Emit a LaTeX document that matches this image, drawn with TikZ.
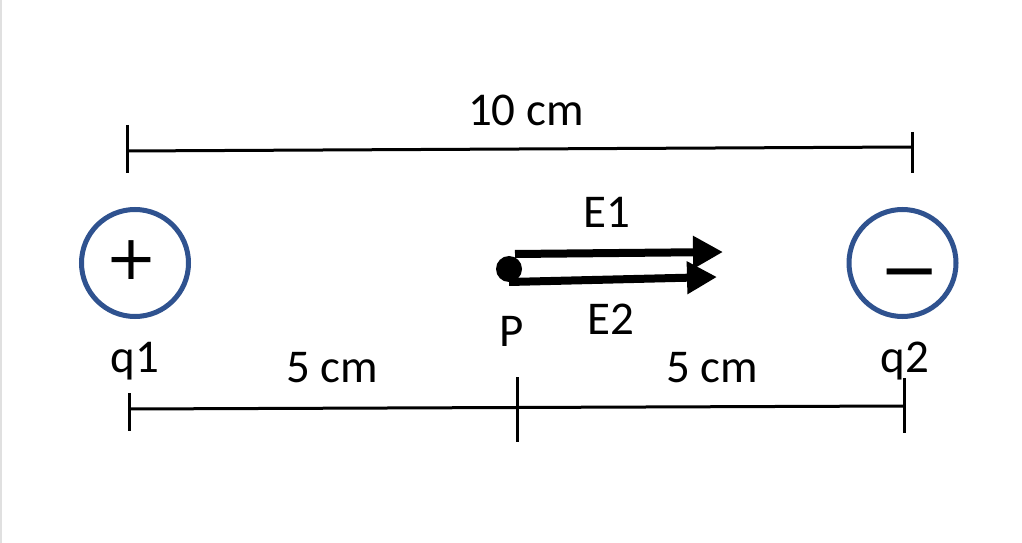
\documentclass[tikz,border=0pt]{standalone}
\usepackage{fontspec}
\setmainfont{Carlito}
\newfontfamily\symfont{DejaVu Sans}
\usetikzlibrary{arrows.meta}
\definecolor{chargeblue}{HTML}{2F528F}
\begin{document}
\begin{tikzpicture}[x=1bp,y=-1bp,
  lbl/.style={inner sep=0pt,anchor=base,font=\fontsize{47bp}{54bp}\selectfont},
  dimline/.style={line width=3bp,black},
  charge/.style={circle,draw=chargeblue,line width=5bp,minimum size=107bp,inner sep=0pt},
  sign/.style={inner sep=0pt,font=\symfont\fontsize{62bp}{70bp}\selectfont},
  field/.style={line width=8bp,-{Triangle[length=30bp,width=31bp]}}]
\useasboundingbox (0,0) rectangle (1022,543);
\fill[white] (0,0) rectangle (1022,543);
\draw[black!12,line width=2bp] (1,0) -- (1,543);
% charges
\node[charge] (c1) at (135,263) {};
\node[charge] (c2) at (902.5,263) {};
\node[sign] (plus) at (131.5,260) {+};
\node[sign,font=\symfont\fontsize{72bp}{80bp}\selectfont] (minus) at (909.5,282) {−};
\node[lbl] (q1) at (135,373) {q1};
\node[lbl] (q2) at (905,373) {q2};
% top dimension
\coordinate (tl) at (127,151);
\coordinate (tr) at (912,147);
\coordinate (tla) at (127,125);
\coordinate (tlb) at (127,173);
\coordinate (tra) at (912,132);
\coordinate (trb) at (912,173);
\draw[dimline] (tl) -- (tr);
\draw[dimline] (tla) -- (tlb);
\draw[dimline] (tra) -- (trb);
\node[lbl] (d10) at (526,126) {10 cm};
% bottom dimension
\coordinate (bl) at (129,409);
\coordinate (br) at (904,406);
\coordinate (bla) at (129,393);
\coordinate (blb) at (129,431);
\coordinate (bma) at (517,377);
\coordinate (bmb) at (517,442);
\coordinate (bra) at (904,378);
\coordinate (brb) at (904,433);
\draw[dimline] (bl) -- (br);
\draw[dimline] (bla) -- (blb);
\draw[dimline] (bma) -- (bmb);
\draw[dimline] (bra) -- (brb);
\node[lbl] (d5a) at (332,383) {5 cm};
\node[lbl] (d5b) at (712,383) {5 cm};
% point P and fields
\coordinate (e1s) at (515,254);
\coordinate (e1e) at (723,252);
\coordinate (e2s) at (509,282);
\coordinate (e2e) at (717,277);
\draw[field] (e1s) -- (e1e);
\draw[field] (e2s) -- (e2e);
\node[circle,fill=black,minimum size=26bp,inner sep=0pt] (P) at (509,269) {};
\node[lbl] (E1) at (607,228) {E1};
\node[lbl] (E2) at (611,335) {E2};
\node[lbl] (Plbl) at (512,347) {P};
\end{tikzpicture}
\end{document}
